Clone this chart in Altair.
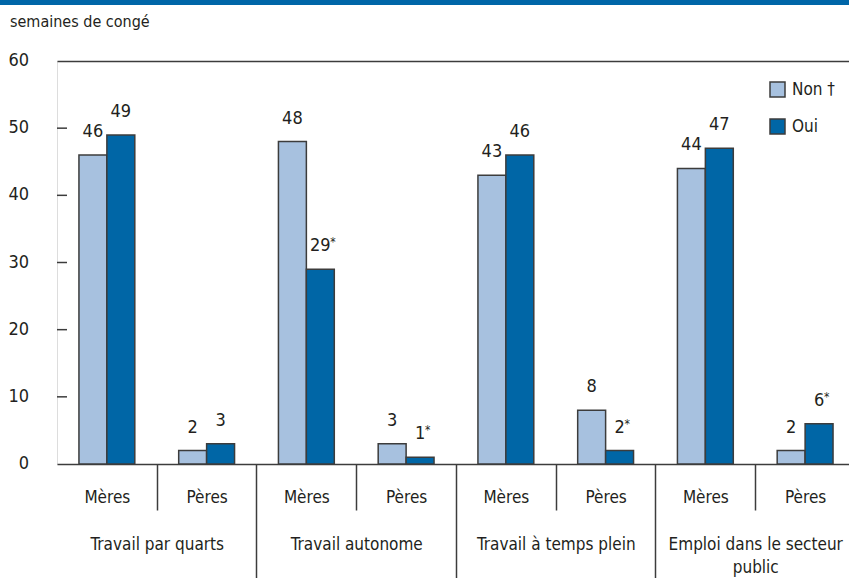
import altair as alt
import pandas as pd

# ---- data ----
subcats = ["Mères", "Pères"]
groups = ["Travail par quarts", "Travail autonome", "Travail à temps plein",
          "Emploi dans le secteur public"]
series = ["Non †", "Oui"]
values_non = [46, 2, 48, 3, 43, 8, 44, 2]
values_oui = [49, 3, 29, 1, 46, 2, 47, 6]
signif_oui = [False, False, True, True, False, True, False, True]
y_ticks = [0, 10, 20, 30, 40, 50, 60]
y_title = "semaines de congé"

FONT = "Liberation Sans Narrow, DejaVu Sans Condensed, Roboto, sans-serif"
TXT = "#231f20"
LINE = "#3c3c3c"
C_NON = "#a7c1df"
C_OUI = "#0066a6"

W, H = 792, 403
BARW = 0.28
XMAX = 7.94

rows = []
for i in range(len(values_non)):
    c = i + 0.5
    rows.append(dict(series=series[0], x=c - BARW, x2=c, xm=c - BARW / 2,
                     v=values_non[i], label=str(values_non[i]),
                     ndig=len(str(values_non[i])), star=False))
    rows.append(dict(series=series[1], x=c, x2=c + BARW, xm=c + BARW / 2,
                     v=values_oui[i], label=str(values_oui[i]),
                     ndig=len(str(values_oui[i])), star=signif_oui[i]))
df = pd.DataFrame(rows)

xscale = alt.Scale(domain=[0, XMAX], nice=False, zero=False)
yscale = alt.Scale(domain=[0, 60], nice=False)

sub_pos = [i + 0.5 for i in range(len(values_non))]
short_sep = [1, 3, 5, 7]
long_sep = [2, 4, 6]
group_pos = [1, 3, 5, 7]

def split_label(s, maxlen=22):
    words, lines, cur = s.split(" "), [], ""
    for w in words:
        if cur and len(cur) + 1 + len(w) > maxlen:
            lines.append(cur); cur = w
        else:
            cur = (cur + " " + w).strip()
    lines.append(cur)
    return lines

grp_js = "[" + ",".join(
    "[" + ",".join("'" + l + "'" for l in split_label(g)) + "]" for g in groups) + "]"
sub_expr = "floor(datum.value) % 2 == 0 ? '" + subcats[0] + "' : '" + subcats[1] + "'"

base_axis = dict(labelFont=FONT, labelColor=TXT, grid=False, title=None, labelLimit=400)

bars = alt.Chart(df).mark_bar(stroke=LINE, strokeWidth=1.5).encode(
    x=alt.X("x:Q", scale=xscale,
            axis=alt.Axis(orient="bottom", values=sub_pos, ticks=False, tickSize=0,
                          domain=True, domainColor=LINE, domainWidth=1.5,
                          labelFontSize=17, labelPadding=25, labelBaseline="top",
                          labelExpr=sub_expr, **base_axis)),
    x2="x2:Q",
    y=alt.Y("v:Q", scale=yscale,
            axis=alt.Axis(orient="left", values=y_ticks, ticks=False, tickSize=0,
                          labels=False, domain=True, domainColor=LINE, domainWidth=1.5,
                          grid=False, title=None)),
    y2=alt.datum(0),
    color=alt.Color("series:N", scale=alt.Scale(domain=series, range=[C_NON, C_OUI]),
                    legend=alt.Legend(title=None, orient="none", legendX=712, legendY=20,
                                      symbolType="square", symbolSize=225,
                                      symbolStrokeColor=LINE, symbolStrokeWidth=1.5,
                                      labelFont=FONT, labelFontSize=17, labelColor=TXT,
                                      labelOffset=6, rowPadding=16, padding=0)),
)

labels = alt.Chart(df).mark_text(font=FONT, fontSize=18, color=TXT, baseline="middle",
                                 align="center", dy=-23).encode(
    x=alt.X("xm:Q", scale=xscale, axis=None),
    y=alt.Y("v:Q", scale=yscale, axis=None),
    text="label:N",
)

def star_layer(nd, dx):
    return alt.Chart(df).transform_filter(
        (alt.datum.star == True) & (alt.datum.ndig == nd)
    ).mark_text(font=FONT, fontSize=12, color=TXT, baseline="top", align="left",
                dx=dx, dy=-32, text="*").encode(
        x=alt.X("xm:Q", scale=xscale, axis=None),
        y=alt.Y("v:Q", scale=yscale, axis=None),
    )

stars1 = star_layer(1, 5)
stars2 = star_layer(2, 10)

ytick_df = pd.DataFrame({"t": y_ticks})
yticks = alt.Chart(pd.DataFrame({"t": y_ticks[1:-1]})).mark_rule(
    color=LINE, strokeWidth=1.5).encode(
    y=alt.Y("t:Q", scale=yscale, axis=None),
    x=alt.value(0), x2=alt.value(10),
)
ylabels = alt.Chart(ytick_df).mark_text(font=FONT, fontSize=18, color=TXT, align="right",
                                        baseline="middle", dx=-28).encode(
    y=alt.Y("t:Q", scale=yscale, axis=None),
    x=alt.value(0),
    text="t:Q",
)
ytitle = alt.Chart(pd.DataFrame({"s": [y_title]})).mark_text(
    font=FONT, fontSize=16, color=TXT, align="left", baseline="alphabetic").encode(
    x=alt.value(-47), y=alt.value(-34), text="s:N",
)

def axis_layer(vals, axis):
    d = pd.DataFrame({"p": vals})
    return alt.Chart(d).mark_point(opacity=0).encode(
        x=alt.X("p:Q", scale=xscale, axis=axis),
        y=alt.value(H),
    )

short_axis = axis_layer(short_sep, alt.Axis(orient="bottom", values=short_sep, labels=False,
                                            domain=False, ticks=True, tickSize=46,
                                            tickColor=LINE, tickWidth=1.5, grid=False,
                                            title=None))
long_axis = axis_layer(long_sep, alt.Axis(orient="bottom", values=long_sep, labels=False,
                                          domain=False, ticks=True, tickSize=114,
                                          tickColor=LINE, tickWidth=1.5, grid=False,
                                          title=None))
group_axis = axis_layer(group_pos, alt.Axis(orient="bottom", values=group_pos, ticks=False,
                                            tickSize=0, domain=False, labelFontSize=17,
                                            labelPadding=72, labelBaseline="top",
                                            labelLineHeight=23,
                                            labelExpr=grp_js + "[floor(datum.value / 2)]",
                                            **base_axis))
top_axis = axis_layer([0], alt.Axis(orient="top", labels=False, ticks=False, domain=True,
                                    domainColor=LINE, domainWidth=1.5, grid=False, title=None))

band = alt.Chart(pd.DataFrame({"a": [0]})).mark_rule(color="#0066a8", strokeWidth=5).encode(
    x=alt.value(-57), x2=alt.value(W), y=alt.value(-58.5),
)

chart = alt.layer(
    band, bars, yticks, ylabels, ytitle, labels, stars1, stars2,
    short_axis, long_axis, group_axis, top_axis
).resolve_axis(x="independent").properties(
    width=W, height=H,
    autosize=alt.AutoSizeParams(type="none"),
    padding={"left": 57, "top": 61, "right": 0, "bottom": 114},
).configure_view(stroke=None).configure(background="white")

chart.save("out.html", embed_options={"renderer": "svg", "actions": False})
